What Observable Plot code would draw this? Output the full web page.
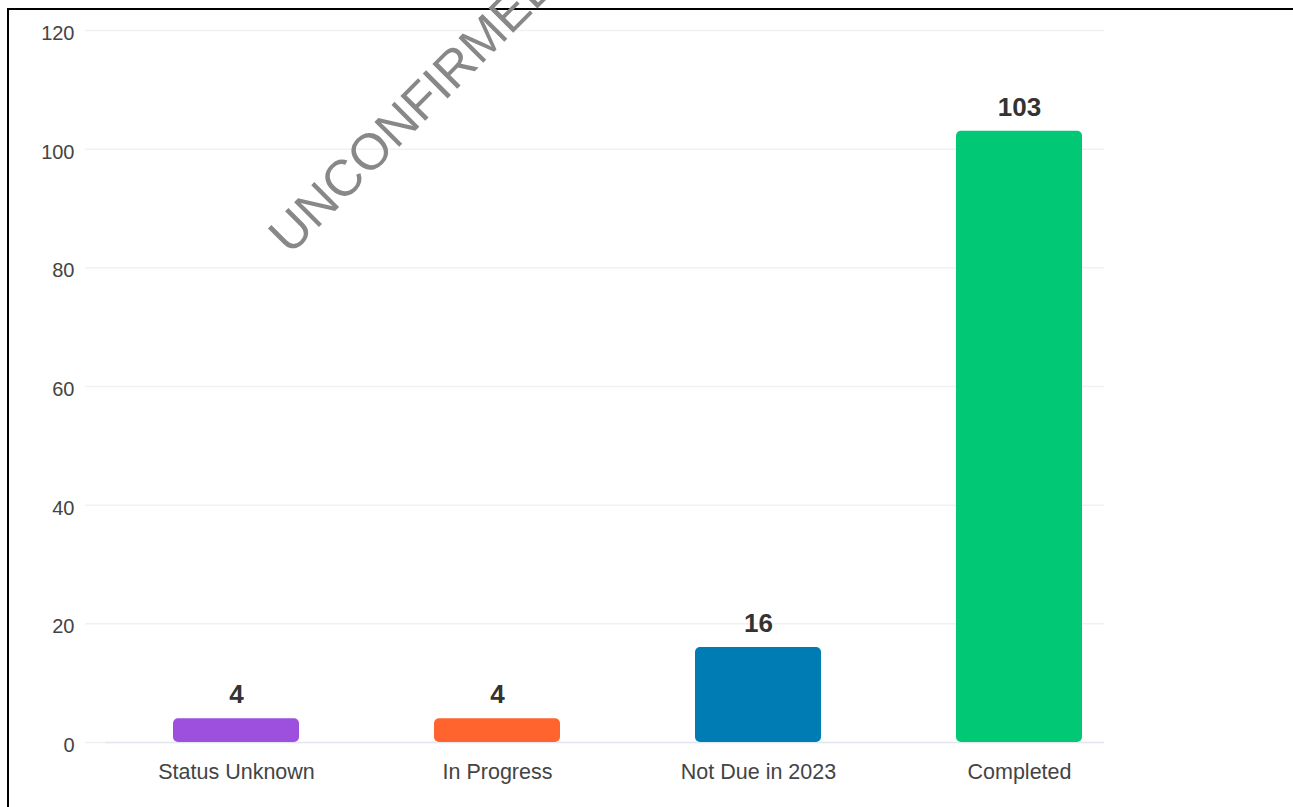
<!DOCTYPE html>
<html>
<head>
<meta charset="utf-8">
<script src="https://cdn.jsdelivr.net/npm/d3@7"></script>
<script src="https://cdn.jsdelivr.net/npm/@observablehq/plot@0.6"></script>
<style>
  html, body { margin: 0; padding: 0; background: #fff; overflow: hidden; width: 1293px; height: 807px; }
  #frame { position: absolute; left: 7px; top: 8px; width: 2000px; height: 2000px; border: 2px solid #000; box-sizing: border-box; }
  #chart { position: absolute; left: 0; top: 0; }
  #wm { position: absolute; left: 0; top: 0; pointer-events: none; }
</style>
</head>
<body>
<div id="frame"></div>
<div id="chart"></div>
<script>
const categories = ["Status Unknown", "In Progress", "Not Due in 2023", "Completed"];
const counts = [4, 4, 16, 103];
const barColors = ["#9d50dd", "#ff642e", "#007cb5", "#00c875"];
const yTicks = [0, 20, 40, 60, 80, 100, 120];
const watermarkText = "UNCONFIRMED";

const data = categories.map((c, i) => ({category: c, count: counts[i]}));
const font = "'Liberation Sans', Arial, sans-serif";

const chart = Plot.plot({
  width: 1293,
  height: 807,
  marginLeft: 85,
  marginRight: 189,
  marginTop: 30,
  marginBottom: 65,
  style: {fontFamily: font, background: "transparent", overflow: "visible"},
  x: {domain: categories, range: [38, 1217], paddingInner: 0.5172, paddingOuter: 0.5172, label: null},
  y: {domain: [0, 120], label: null},
  color: {domain: categories, range: barColors},
  marks: [
    Plot.ruleY(yTicks, {stroke: "#f1f1f1", strokeWidth: 1.5}),
    Plot.ruleY([0], {stroke: "#e3e6ec", strokeWidth: 1.5, insetLeft: 20}),
    Plot.barY(data, {x: "category", y: "count", fill: "category", rx: 5}),
    Plot.text(data, {x: "category", y: "count", text: d => String(d.count), dy: -24, fontSize: 26, fontWeight: "bold", fill: "#333"}),
    Plot.axisY({ticks: yTicks, tickSize: 0, tickPadding: 11, fontSize: 20, fill: "#444", dy: 3, label: null}),
    Plot.axisX({tickSize: 0, tickPadding: 21, fontSize: 21.5, fill: "#444", label: null})
  ]
});
document.getElementById("chart").appendChild(chart);

// watermark overlay
const ns = "http://www.w3.org/2000/svg";
const svg = document.createElementNS(ns, "svg");
svg.setAttribute("id", "wm");
svg.setAttribute("width", 1293);
svg.setAttribute("height", 807);
const t = document.createElementNS(ns, "text");
t.setAttribute("x", 290);
t.setAttribute("y", 256);
t.setAttribute("transform", "rotate(-45 290 256)");
t.setAttribute("font-family", font);
t.setAttribute("font-size", 51);
t.setAttribute("fill", "#888888");
t.textContent = watermarkText;
svg.appendChild(t);
document.body.appendChild(svg);
</script>
</body>
</html>
